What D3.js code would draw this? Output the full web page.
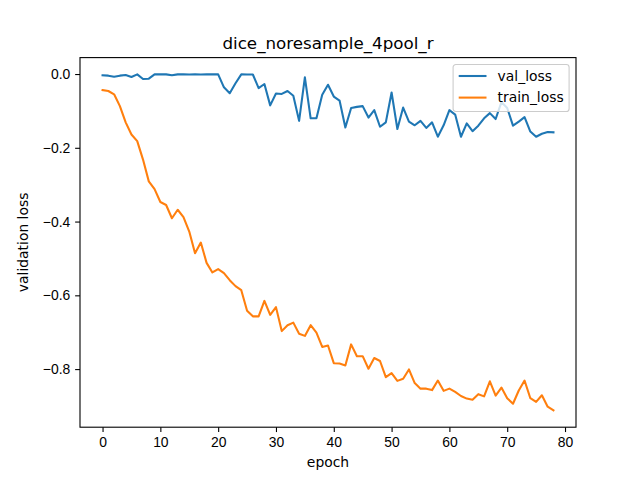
<!DOCTYPE html>
<html>
<head>
<meta charset="utf-8">
<script src="https://cdn.jsdelivr.net/npm/d3@7"></script>
<style>
  body { margin: 0; background: #fff; }
  svg { font-family: "DejaVu Sans", sans-serif; }
</style>
</head>
<body>
<svg id="chart" width="640" height="480"></svg>
<script>
// values, one per epoch (0..78)
const valLoss = [
  -0.0035, -0.0044, -0.0072, -0.0044, -0.0026, -0.0081, -0.0010, -0.0135, -0.0126, -0.0010,
  -0.0010, -0.0010, -0.0035, -0.0010, -0.0010, -0.0012, -0.0010, -0.0012, -0.0010, -0.0010,
  -0.0010, -0.036, -0.052, -0.025, -0.0010, -0.0015, -0.0012, -0.038, -0.027, -0.085,
  -0.053, -0.054, -0.046, -0.059, -0.127, -0.009, -0.120, -0.120, -0.056, -0.029,
  -0.061, -0.072, -0.145, -0.092, -0.089, -0.087, -0.118, -0.098, -0.143, -0.131,
  -0.050, -0.149, -0.091, -0.129, -0.139, -0.127, -0.146, -0.131, -0.170, -0.139,
  -0.098, -0.110, -0.170, -0.134, -0.155, -0.140, -0.120, -0.106, -0.122, -0.076,
  -0.092, -0.140, -0.129, -0.117, -0.156, -0.170, -0.162, -0.157, -0.158
];
const trainLoss = [
  -0.0435, -0.046, -0.055, -0.087, -0.131, -0.164, -0.182, -0.232, -0.291, -0.312,
  -0.347, -0.355, -0.391, -0.368, -0.388, -0.427, -0.486, -0.457, -0.512, -0.538,
  -0.529, -0.540, -0.559, -0.575, -0.586, -0.642, -0.657, -0.657, -0.615, -0.653,
  -0.632, -0.697, -0.681, -0.674, -0.704, -0.710, -0.681, -0.701, -0.740, -0.736,
  -0.784, -0.785, -0.790, -0.733, -0.765, -0.765, -0.799, -0.770, -0.778, -0.822,
  -0.811, -0.832, -0.826, -0.801, -0.838, -0.853, -0.853, -0.857, -0.831, -0.859,
  -0.853, -0.862, -0.873, -0.880, -0.883, -0.868, -0.874, -0.833, -0.872, -0.850,
  -0.879, -0.894, -0.858, -0.831, -0.879, -0.889, -0.871, -0.902, -0.912
];
const seriesNames = ["val_loss", "train_loss"];
const seriesColors = ["#1f77b4", "#ff7f0e"];
const xTicks = [0, 10, 20, 30, 40, 50, 60, 70, 80];
const yTicks = [0.0, -0.2, -0.4, -0.6, -0.8];

const svg = d3.select('#chart');
const width = 640, height = 480;
const margin = { top: 57.6, bottom: 52.8, left: 80, right: 64 };
const innerWidth = width - margin.left - margin.right;
const innerHeight = height - margin.top - margin.bottom;

const epochs = d3.range(valLoss.length);
const series = [valLoss, trainLoss];

// matplotlib-style 5% margins
const xMax = epochs.length - 1;
const xPad = xMax * 0.05;
const yMin = d3.min(series, s => d3.min(s));
const yMax = d3.max(series, s => d3.max(s));
const yPad = (yMax - yMin) * 0.05;

const xScale = d3.scaleLinear()
    .domain([-xPad, xMax + xPad])
    .range([0, innerWidth]);
const yScale = d3.scaleLinear()
    .domain([yMin - yPad, yMax + yPad])
    .range([innerHeight, 0]);

const g = svg.append('g')
    .attr('transform', `translate(${margin.left},${margin.top})`);

const line = d3.line()
    .x((d, i) => xScale(i))
    .y(d => yScale(d));

g.selectAll('path.series')
    .data(series)
    .enter()
    .append('path')
    .attr('class', 'series')
    .attr('d', d => line(d))
    .attr('fill', 'none')
    .attr('stroke', (d, i) => seriesColors[i])
    .attr('stroke-width', 2.08)
    .attr('stroke-linejoin', 'round')
    .attr('stroke-linecap', 'square');

// axes
const xAxis = d3.axisBottom(xScale).tickValues(xTicks).tickSize(4.86).tickPadding(4.86)
    .tickFormat(d3.format('d'));
const gx = g.append('g')
    .attr('transform', `translate(0,${innerHeight})`)
    .call(xAxis);
const yAxis = d3.axisLeft(yScale).tickValues(yTicks).tickSize(4.86).tickPadding(4.86)
    .tickFormat(d3.format('.1f'));
const gy = g.append('g').call(yAxis);

[gx, gy].forEach(a => {
    a.select('.domain').remove();
    a.selectAll('line').attr('stroke', '#000').attr('stroke-width', 1.1);
    a.selectAll('text').style('font-size', '13.9px').attr('fill', '#000');
});

// frame
g.append('rect')
    .attr('width', innerWidth)
    .attr('height', innerHeight)
    .attr('fill', 'none')
    .attr('stroke', '#000')
    .attr('stroke-width', 1.1);

// labels
g.append('text')
    .attr('x', innerWidth / 2)
    .attr('y', -8.3)
    .attr('text-anchor', 'middle')
    .style('font-size', '16.7px')
    .text('dice_noresample_4pool_r');
g.append('text')
    .attr('x', innerWidth / 2)
    .attr('y', innerHeight + 40)
    .attr('text-anchor', 'middle')
    .style('font-size', '13.9px')
    .text('epoch');
g.append('text')
    .attr('transform', 'rotate(-90)')
    .attr('x', -innerHeight / 2)
    .attr('y', -52)
    .attr('text-anchor', 'middle')
    .style('font-size', '13.9px')
    .text('validation loss');

// legend, upper right
const legW = 116, legH = 47;
const legend = g.append('g')
    .attr('transform', `translate(${innerWidth - 6.9 - legW},6.9)`);
legend.append('rect')
    .attr('width', legW)
    .attr('height', legH)
    .attr('rx', 2.8)
    .attr('fill', 'rgba(255,255,255,0.8)')
    .attr('stroke', '#cccccc')
    .attr('stroke-width', 1.1);
const items = legend.selectAll('g.item')
    .data(seriesNames)
    .enter()
    .append('g')
    .attr('class', 'item')
    .attr('transform', (d, i) => `translate(5.6,${11.5 + i * 21.6})`);
items.append('line')
    .attr('x1', 0).attr('x2', 27.8)
    .attr('stroke', (d, i) => seriesColors[i])
    .attr('stroke-width', 2.08);
items.append('text')
    .attr('x', 38.9)
    .attr('dy', '0.35em')
    .style('font-size', '13.9px')
    .text(d => d);
</script>
</body>
</html>
